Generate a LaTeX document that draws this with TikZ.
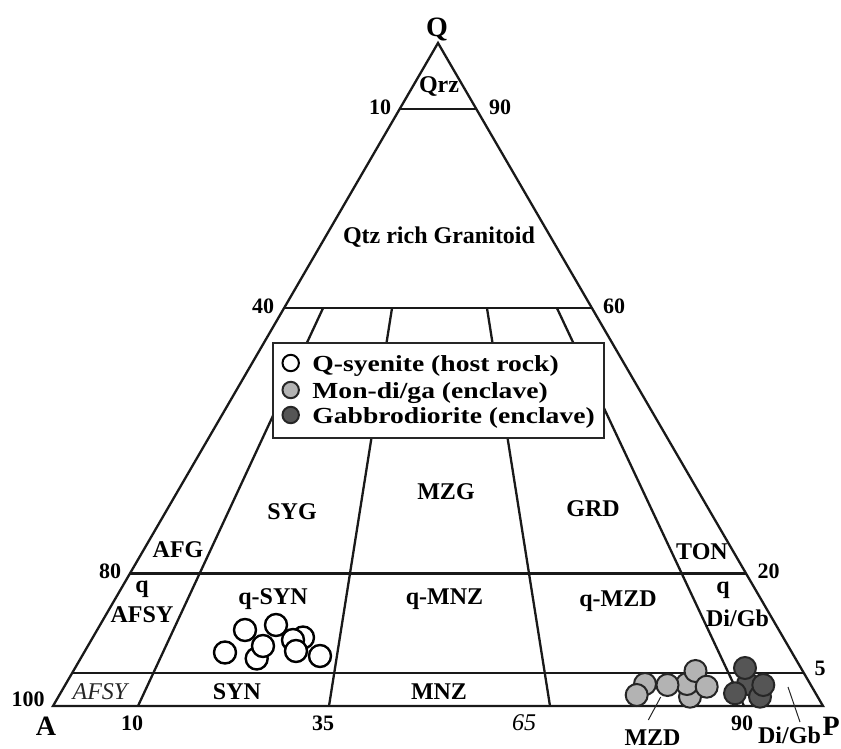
\documentclass[tikz,border=0pt]{standalone}
\usepackage{fontspec}
\setmainfont{Liberation Serif}
\usepackage{graphicx}
\usetikzlibrary{calc}
\definecolor{lgray}{HTML}{B3B3B3}
\definecolor{dgray}{HTML}{555555}
\begin{document}
\begin{tikzpicture}[x=0.5pt,y=-0.5pt,
  edge/.style={line width=1.15pt, black!90, line join=miter},
  lab/.style={font=\bfseries\fontsize{12}{14}\selectfont, inner sep=0pt, anchor=base},
  num/.style={font=\bfseries\fontsize{11}{13}\selectfont, inner sep=0pt, anchor=base},
  vtx/.style={font=\bfseries\fontsize{14}{16}\selectfont, inner sep=0pt, anchor=base},
  itl/.style={font=\itshape\fontsize{12}{14}\selectfont, inner sep=0pt, anchor=base, text=black!85},
  legtxt/.style={font=\bfseries\fontsize{11.5}{13}\selectfont, inner sep=0pt, anchor=base west},
  dotw/.style={circle, draw=black, line width=1.2pt, fill=white, minimum size=11pt, inner sep=0pt},
  dotg/.style={circle, draw=black!85, line width=1pt, fill=lgray, minimum size=11pt, inner sep=0pt},
  dotd/.style={circle, draw=black!85, line width=1pt, fill=dgray, minimum size=11pt, inner sep=0pt},
  legw/.style={dotw, minimum size=8.2pt, line width=1pt},
  legg/.style={dotg, minimum size=8.2pt},
  legd/.style={dotd, minimum size=8.2pt},
  leader/.style={line width=0.5pt, black!85},
  legbox/.style={draw=black!85, line width=0.8pt, fill=white}]
\useasboundingbox (0,0) rectangle (841,749);

% vertices
\coordinate (A) at (53,706);
\coordinate (P) at (823,706);
\coordinate (Q) at (438,43);

% field boundaries
\coordinate (b1) at (138,706);  \coordinate (t1) at (323,308.2);
\coordinate (b2) at (329,706);  \coordinate (t2) at (392,308.2);
\coordinate (b3) at (550,706);  \coordinate (t3) at (487,308.2);
\coordinate (b4) at (744,706);  \coordinate (t4) at (557,308.2);
\draw[edge] (b1) -- (t1);
\draw[edge] (b2) -- (t2);
\draw[edge] (b3) -- (t3);
\draw[edge] (b4) -- (t4);
\draw[edge] ($(A)!0.9!(Q)$) -- ($(P)!0.9!(Q)$);
\draw[edge] ($(A)!0.6!(Q)$) -- ($(P)!0.6!(Q)$);
\draw[edge] ($(A)!0.2!(Q)$) -- ($(P)!0.2!(Q)$);
\draw[edge] ($(A)!0.05!(Q)$) -- ($(P)!0.05!(Q)$);
\draw[edge] (A) -- (Q) -- (P) -- cycle;

% legend
\draw[legbox] (272.7,343) rectangle (604,438);
\node[legw] (lw) at (290.7,363) {};
\node[legg] (lg) at (290.7,390) {};
\node[legd] (ld) at (290.7,415) {};
\node[legtxt] (tw) at (312,371.5) {\scalebox{1.2}[1]{Q-syenite (host rock)}};
\node[legtxt] (tg) at (312,398) {\scalebox{1.2}[1]{Mon-di/ga (enclave)}};
\node[legtxt] (td) at (312,423) {\scalebox{1.2}[1]{Gabbrodiorite (enclave)}};

% vertex labels and ticks
\node[vtx] (lQ) at (437,37) {Q};
\node[vtx] (lA) at (46,735) {A};
\node[vtx, anchor=base east] (lP) at (840,735) {P};
\node[num] (n10a) at (380,115) {10};
\node[num] (n90a) at (500,115) {90};
\node[num] (n40) at (263,313) {40};
\node[num] (n60) at (614,313) {60};
\node[num] (n80) at (110,578) {80};
\node[num] (n20) at (768.5,578) {20};
\node[num] (n5) at (820,675) {5};
\node[num] (n100) at (28,706.7) {100};
\node[num] (n10b) at (132,730) {10};
\node[num] (n35) at (323,730) {35};
\node[itl, text=black] (n65) at (524,730) {65};
\node[num] (n90b) at (742,730) {90};

% field labels
\node[lab] (qrz) at (439,92.7) {Qrz};
\node[lab] (qrg) at (439,243) {Qtz rich Granitoid};
\node[lab] (afg) at (178,557.7) {AFG};
\node[lab] (syg) at (292,519) {SYG};
\node[lab] (mzg) at (446,499) {MZG};
\node[lab] (grd) at (593,516.7) {GRD};
\node[lab] (ton) at (702,559) {TON};
\node[lab] (qa) at (142,592.5) {q};
\node[lab] (qafsy) at (142,622.7) {AFSY};
\node[lab] (qsyn) at (273,604) {q-SYN};
\node[lab] (qmnz) at (444.5,604) {q-MNZ};
\node[lab] (qmzd) at (618,606) {q-MZD};
\node[lab] (qd) at (723,593) {q};
\node[lab] (qdigb) at (737.5,626) {Di/Gb};
\node[itl] (afsy) at (100,699) {AFSY};
\node[lab] (syn) at (237,699) {SYN};
\node[lab] (mnz) at (439,699) {MNZ};
\node[lab] (mzd) at (652.5,745) {MZD};
\node[lab] (digb) at (789.5,743) {Di/Gb};

% leaders
\coordinate (mzdp) at (660.7,697);
\coordinate (mzdq) at (648.3,720);
\coordinate (digbp) at (788,687);
\coordinate (digbq) at (800,722);
\draw[leader] (mzdp) -- (mzdq);
\draw[leader] (digbp) -- (digbq);

% Q-syenite (host rock)
\node[dotw] (w2) at (245,630) {};
\node[dotw] (w3) at (276,625) {};
\node[dotw] (w4) at (256.7,658.5) {};
\node[dotw] (w5) at (263,646) {};
\node[dotw] (w7) at (303,637.5) {};
\node[dotw] (w6) at (293,640) {};
\node[dotw] (w8) at (296,651) {};
\node[dotw] (w9) at (320,656) {};
\node[dotw] (w1) at (225,652.5) {};

% Mon-di/ga (enclave)
\node[dotg] (g1) at (645,684) {};
\node[dotg] (g2) at (636.7,695) {};
\node[dotg] (g4) at (690,696.7) {};
\node[dotg] (g5) at (687,684) {};
\node[dotg] (g3) at (667.5,685) {};
\node[dotg] (g7) at (695.5,671) {};
\node[dotg] (g6) at (706.7,686.7) {};

% Gabbrodiorite (enclave)
\node[dotd] (d5) at (748,684) {};
\node[dotd] (d4) at (760,696.7) {};
\node[dotd] (d1) at (745,668) {};
\node[dotd] (d3) at (763.3,685) {};
\node[dotd] (d2) at (735,693.3) {};
\end{tikzpicture}
\end{document}
